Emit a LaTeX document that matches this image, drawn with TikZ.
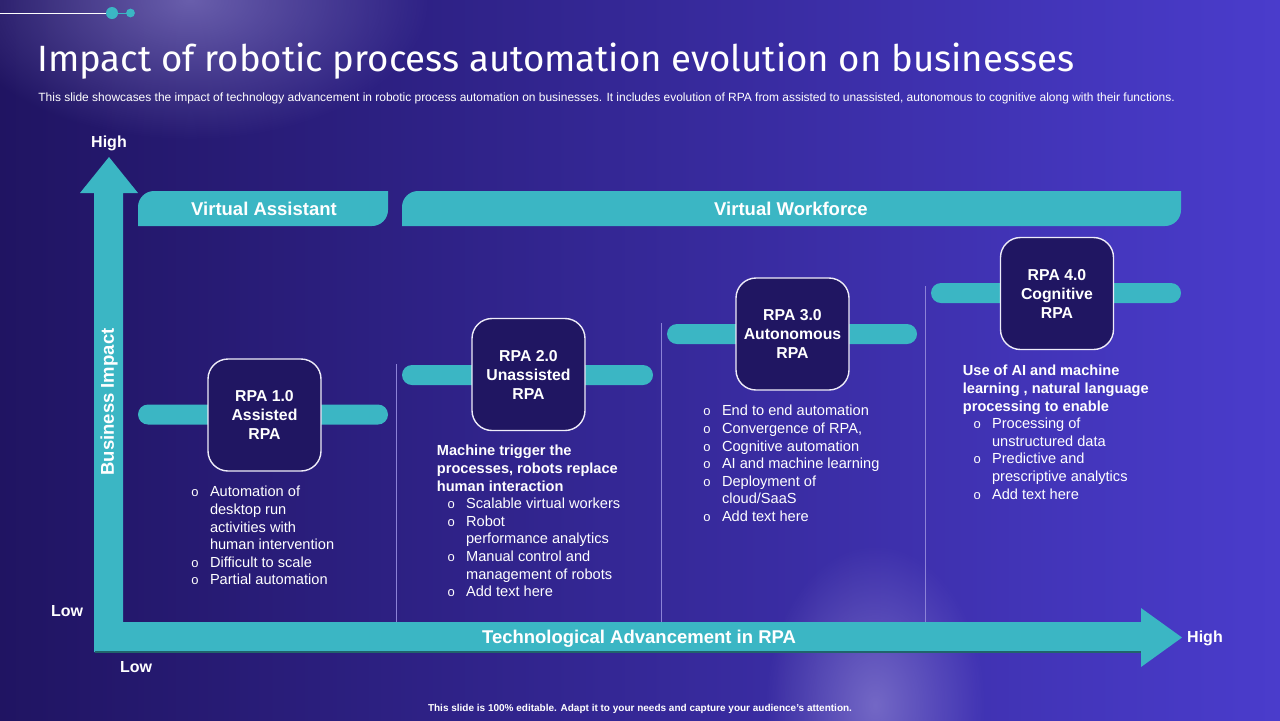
\documentclass[tikz,border=0pt]{standalone}
\usepackage{fontspec}
\setmainfont{Liberation Sans}
\newfontfamily\titlefont{Fira Sans}
\usetikzlibrary{fadings}

\definecolor{bgL}{RGB}{32,20,98}
\definecolor{bgM}{RGB}{40,28,130}
\definecolor{bgR}{RGB}{74,60,204}
\definecolor{rpateal}{RGB}{59,182,196}
\definecolor{boxfill}{RGB}{32,22,98}
\definecolor{divline}{RGB}{140,130,215}
\definecolor{glow}{RGB}{160,150,220}

\tikzfading[name=glowfade, inner color=transparent!45, outer color=transparent!100]

\newcommand{\bult}{\makebox[9.3pt][l]{\fontsize{6.5}{6.5}\selectfont o}}
\newcommand{\bultind}{\hspace*{9.3pt}}
\newcommand{\subind}{\hspace*{5.3pt}}

\tikzset{
  rpabox/.style={draw=white!85!divline, line width=0.7pt, fill=boxfill, rounded corners=10pt,
    minimum width=56.5pt, minimum height=56pt, align=center, text=white,
    font=\bfseries\fontsize{7.9}{9.5}\selectfont},
  listtxt/.style={anchor=north west, inner sep=0pt, align=left, text=white,
    font=\fontsize{7.3}{8.8}\selectfont},
  bandtxt/.style={text=white, inner sep=0pt, font=\bfseries\fontsize{9.25}{11}\selectfont},
  axistxt/.style={text=white, inner sep=0pt, font=\bfseries\fontsize{8}{10}\selectfont},
}

\begin{document}
\begin{tikzpicture}[x=0.5pt,y=-0.5pt]
    \useasboundingbox (0,0) rectangle (1280,720);

    % background
    \shade[left color=bgL, middle color=bgM, right color=bgR] (0,0) rectangle (1280,720);
    \fill[glow, path fading=glowfade] (190,0) ellipse (120pt and 70pt);
    \fill[glow, path fading=glowfade] (875,705) ellipse (55pt and 80pt);

    % top decoration
    \draw[white, line width=0.5pt] (0,13) -- (106,13);
    \draw[rpateal, line width=0.5pt] (118,13) -- (127,13);
    \fill[rpateal] (112,13) circle (3pt);
    \fill[rpateal] (130.5,13) circle (2.2pt);

    \node[anchor=base west, inner sep=0pt, text=white, font=\titlefont\fontsize{18.3}{21}\selectfont] (title) at (37,71)
        {Impact of robotic process automation evolution on businesses};
    \node[anchor=base west, inner sep=0pt, text=white, font=\fontsize{5.98}{7}\selectfont] (subtitle) at (38,101.5)
        {This slide showcases the impact of technology advancement in robotic process automation on businesses. It includes evolution of RPA from assisted to unassisted, autonomous to cognitive along with their functions.};

    % axes
    \fill[rpateal] (94,652) -- (94,193) -- (80,193) -- (109,157) -- (138,193) -- (123,193) -- (123,622)
        -- (1141,622) -- (1141,608) -- (1182,637.5) -- (1141,667) -- (1141,652) -- cycle;
    \draw[rpateal!55!black, line width=0.8pt] (95,652) -- (1141,652);

    \node[axistxt, anchor=base] (highy) at (109,147) {High};
    \node[axistxt, anchor=base] (lowy) at (67,616) {Low};
    \node[axistxt, anchor=base] (lowx) at (136,672.5) {Low};
    \node[axistxt, anchor=base] (highx) at (1205,642.5) {High};
    \node[bandtxt, anchor=base] (techadv) at (639,643) {Technological Advancement in RPA};
    \node[bandtxt, rotate=90] (bizimp) at (109,402) {Business Impact};

    % header bands
    \fill[rpateal] (138,226) -- (138,207) .. controls (138,198.2) and (145.2,191) .. (154,191) -- (388,191)
        -- (388,210) .. controls (388,218.8) and (380.8,226) .. (372,226) -- cycle;
    \fill[rpateal] (402,226) -- (402,207) .. controls (402,198.2) and (409.2,191) .. (418,191) -- (1181,191)
        -- (1181,210) .. controls (1181,218.8) and (1173.8,226) .. (1165,226) -- cycle;
    \node[bandtxt] (vassist) at (264,208.5) {Virtual Assistant};
    \node[bandtxt] (vwork) at (791,208.5) {Virtual Workforce};

    % dividers
    \draw[divline, line width=0.4pt] (396,364) -- (396,622);
    \draw[divline, line width=0.4pt] (661,323) -- (661,622);
    \draw[divline, line width=0.4pt] (925,286) -- (925,622);

    % stage bars
    \fill[rpateal, rounded corners=5pt] (138,404.5) rectangle (388,424.5);
    \fill[rpateal, rounded corners=5pt] (402,365) rectangle (653,385);
    \fill[rpateal, rounded corners=5pt] (667,324) rectangle (917,344);
    \fill[rpateal, rounded corners=5pt] (931,283) rectangle (1181,303);

    % stage boxes
    \node[rpabox] (rpa1) at (264.5,415) {RPA 1.0\\Assisted\\RPA};
    \node[rpabox] (rpa2) at (528.5,374.5) {RPA 2.0\\Unassisted\\RPA};
    \node[rpabox] (rpa3) at (792.5,334) {RPA 3.0\\Autonomous\\RPA};
    \node[rpabox] (rpa4) at (1057,293.5) {RPA 4.0\\Cognitive\\RPA};

    % stage texts
    \node[listtxt] (list1) at (191,486) {\bult Automation of\\\bultind desktop run\\\bultind activities with\\\bultind human intervention\\\bult Difficult to scale\\\bult Partial automation};

    \node[listtxt] (list2) at (436.5,445) {\textbf{Machine trigger the}\\\textbf{processes, robots replace}\\\textbf{human interaction}\\\subind\bult Scalable virtual workers\\\subind\bult Robot\\\subind\bultind performance analytics\\\subind\bult Manual control and\\\subind\bultind management of robots\\\subind\bult Add text here};

    \node[listtxt] (list3) at (703,405) {\bult End to end automation\\\bult Convergence of RPA,\\\bult Cognitive automation\\\bult AI and machine learning\\\bult Deployment of\\\bultind cloud/SaaS\\\bult Add text here};

    \node[listtxt] (list4) at (962.5,365) {\textbf{Use of AI and machine}\\\textbf{learning , natural language}\\\textbf{processing to enable}\\\subind\bult Processing of\\\subind\bultind unstructured data\\\subind\bult Predictive and\\\subind\bultind prescriptive analytics\\\subind\bult Add text here};

    \node[anchor=base, inner sep=0pt, text=white, font=\bfseries\fontsize{5}{6}\selectfont] (footer) at (640,711)
        {This slide is 100\% editable. Adapt it to your needs and capture your audience's attention.};

\end{tikzpicture}
\end{document}
